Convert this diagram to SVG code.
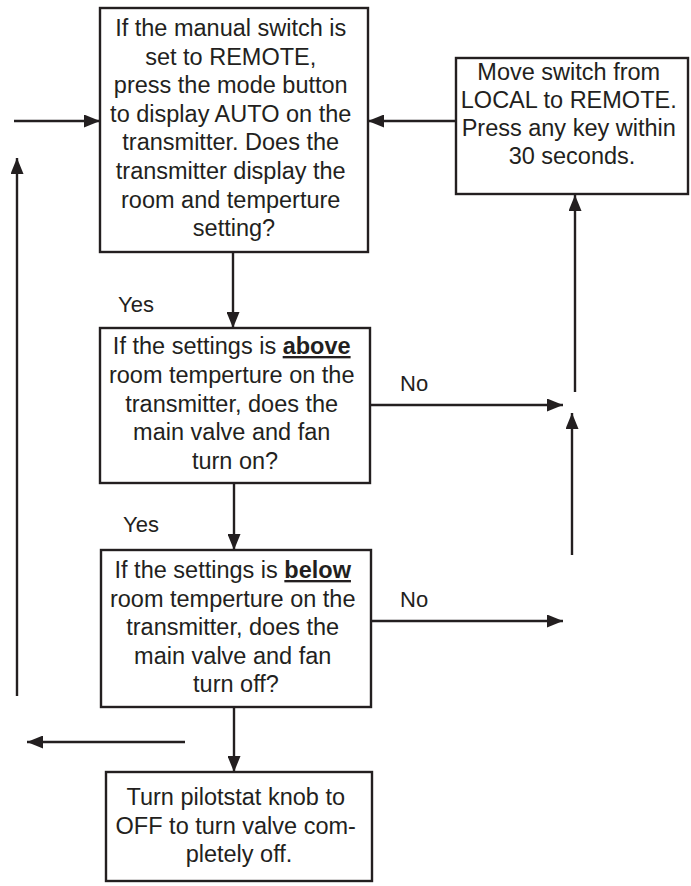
<svg xmlns="http://www.w3.org/2000/svg" width="691" height="886" viewBox="0 0 691 886">
<defs>
<marker id="ah" markerUnits="userSpaceOnUse" markerWidth="17" markerHeight="13" refX="16" refY="6.5" orient="auto">
<path d="M0,0 L16,6.5 L0,13 z" fill="#231f20"/>
</marker>
<style>
.box{fill:#fff;stroke:#231f20;stroke-width:2.4}
.t{font-family:"Liberation Sans",Arial,sans-serif;font-size:23.5px;fill:#231f20;text-anchor:middle}
.l{font-family:"Liberation Sans",Arial,sans-serif;font-size:22px;fill:#231f20}
.c{fill:none;stroke:#231f20;stroke-width:2.4}
.a{marker-end:url(#ah)}
.b{font-weight:bold;text-decoration:underline}
</style>
</defs>
<rect width="691" height="886" fill="#fff"/>
<g id="connectors">
<line class="c a" x1="14" y1="121" x2="100" y2="121"/>
<line class="c a" x1="456" y1="121" x2="368" y2="121"/>
<line class="c a" x1="233" y1="252" x2="233" y2="328"/>
<line class="c a" x1="234" y1="483" x2="234" y2="550"/>
<line class="c a" x1="234" y1="707" x2="234" y2="772"/>
<line class="c a" x1="370" y1="405" x2="563" y2="405"/>
<line class="c a" x1="370" y1="621" x2="563" y2="621"/>
<line class="c a" x1="575" y1="392" x2="575" y2="195"/>
<line class="c a" x1="572" y1="555" x2="572" y2="413"/>
<line class="c a" x1="17" y1="696" x2="17" y2="158"/>
<line class="c a" x1="185" y1="742" x2="27" y2="742"/>
<text class="l" x="118" y="312">Yes</text>
<text class="l" x="123" y="532">Yes</text>
<text class="l" x="400" y="391">No</text>
<text class="l" x="400" y="607">No</text>
</g>
<g id="n1">
<rect class="box" x="100" y="8" width="268" height="244"/>
<text class="t">
<tspan x="234" y="36">If the manual switch is</tspan>
<tspan x="234" y="64.6">set to REMOTE,</tspan>
<tspan x="234" y="93.2">press the mode button</tspan>
<tspan x="234" y="121.8">to display AUTO on the</tspan>
<tspan x="234" y="150.4">transmitter. Does the</tspan>
<tspan x="234" y="179">transmitter display the</tspan>
<tspan x="234" y="207.6">room and temperture</tspan>
<tspan x="234" y="236.2">setting?</tspan>
</text>
</g>
<g id="n2">
<rect class="box" x="456" y="58" width="232" height="136"/>
<text class="t">
<tspan x="572" y="80">Move switch from</tspan>
<tspan x="572" y="108">LOCAL to REMOTE.</tspan>
<tspan x="572" y="136">Press any key within</tspan>
<tspan x="572" y="164">30 seconds.</tspan>
</text>
</g>
<g id="n3">
<rect class="box" x="100" y="328" width="270" height="155"/>
<text class="t">
<tspan x="235" y="354">If the settings is <tspan class="b">above</tspan></tspan>
<tspan x="235" y="383">room temperture on the</tspan>
<tspan x="235" y="411.5">transmitter, does the</tspan>
<tspan x="235" y="440">main valve and fan</tspan>
<tspan x="235" y="468.5">turn on?</tspan>
</text>
</g>
<g id="n4">
<rect class="box" x="101" y="550" width="270" height="157"/>
<text class="t">
<tspan x="236" y="578">If the settings is <tspan class="b">below</tspan></tspan>
<tspan x="236" y="606.5">room temperture on the</tspan>
<tspan x="236" y="635">transmitter, does the</tspan>
<tspan x="236" y="663.5">main valve and fan</tspan>
<tspan x="236" y="692">turn off?</tspan>
</text>
</g>
<g id="n5">
<rect class="box" x="106" y="772" width="266" height="109"/>
<text class="t">
<tspan x="239" y="805">Turn pilotstat knob to</tspan>
<tspan x="239" y="833.5">OFF to turn valve com-</tspan>
<tspan x="239" y="862">pletely off.</tspan>
</text>
</g>
</svg>
